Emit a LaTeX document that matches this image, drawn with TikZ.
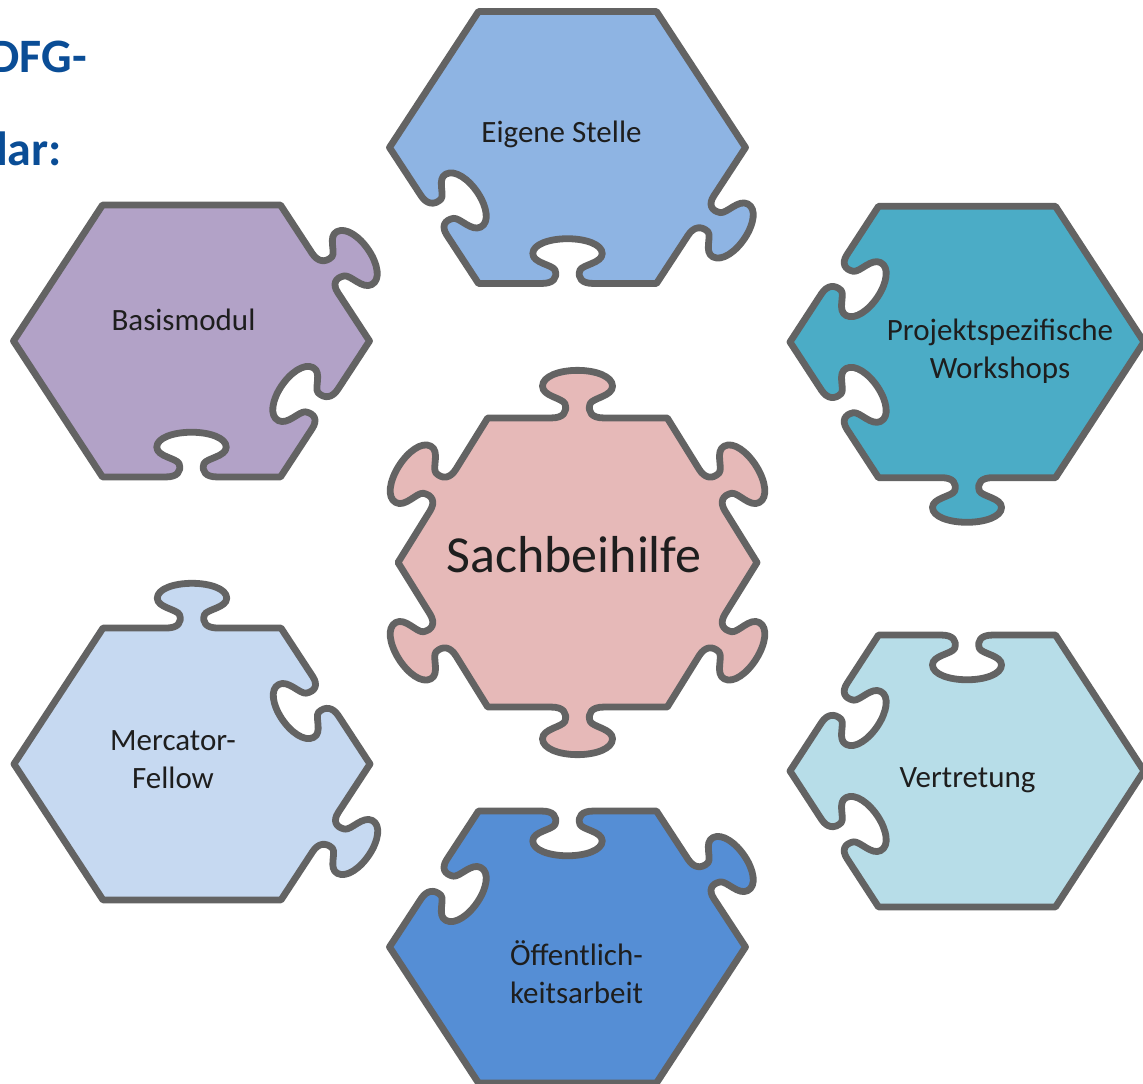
\documentclass[tikz,border=0pt]{standalone}
\usepackage{fontspec}
\setmainfont{Carlito}
\definecolor{edgegray}{RGB}{99,99,99}
\definecolor{labeltext}{RGB}{30,30,30}
\definecolor{titleblue}{RGB}{10,77,150}
\definecolor{cEigene}{RGB}{142,180,227}
\definecolor{cBasis}{RGB}{178,162,199}
\definecolor{cProjekt}{RGB}{75,172,198}
\definecolor{cSach}{RGB}{230,185,184}
\definecolor{cMercator}{RGB}{198,217,241}
\definecolor{cVertretung}{RGB}{183,221,232}
\definecolor{cOeff}{RGB}{85,142,213}
% edge profiles in a local frame: edge from (0,0) to (1,0), outward = -y
\newcommand\plainedge{-- (1,0)}
\newcommand\knobedge{-- (0.355,0)
  .. controls (0.42,0) and (0.445,-0.035) .. (0.43,-0.085)
  .. controls (0.415,-0.12) and (0.305,-0.13) .. (0.305,-0.19)
  .. controls (0.305,-0.25) and (0.40,-0.285) .. (0.5,-0.285)
  .. controls (0.60,-0.285) and (0.695,-0.25) .. (0.695,-0.19)
  .. controls (0.695,-0.13) and (0.585,-0.12) .. (0.57,-0.085)
  .. controls (0.555,-0.035) and (0.58,0) .. (0.645,0) -- (1,0)}
\newcommand\notchedge{-- (0.355,0)
  .. controls (0.42,0) and (0.445,0.035) .. (0.43,0.085)
  .. controls (0.415,0.12) and (0.305,0.13) .. (0.305,0.19)
  .. controls (0.305,0.25) and (0.40,0.285) .. (0.5,0.285)
  .. controls (0.60,0.285) and (0.695,0.25) .. (0.695,0.19)
  .. controls (0.695,0.13) and (0.585,0.12) .. (0.57,0.085)
  .. controls (0.555,0.035) and (0.58,0) .. (0.645,0) -- (1,0)}
% edge k of the hexagon, from vertex 60k to vertex 60(k+1)
\newcommand\ed[2]{{[shift={(60*#1:\pR)}, rotate=60*#1+120, scale=\pR] #2}}
% piece: x, y (image, downwards), R, yscale, fill, edges
\newcommand\piece[6]{%
  \begin{scope}[shift={(#1,-#2)}, yscale=#4]
    \def\pR{#3}
    \filldraw[piece, fill=#5] (0:#3) #6 -- cycle;
  \end{scope}}
\begin{document}
\begin{tikzpicture}[x=1pt,y=1pt,
  piece/.style={draw=edgegray, line width=6.8pt, line join=round},
  lbl/.style={font=\fontsize{31}{38}\selectfont, text=labeltext, align=center, inner sep=0pt, anchor=base},
  ttl/.style={font=\fontsize{48}{48}\selectfont\bfseries, text=titleblue, inner sep=0pt, anchor=base east}]
\useasboundingbox (0,0) rectangle (1143,-1084);

% Eigene Stelle
\piece{567.5}{147.5}{178}{0.882}{cEigene}{\ed{0}{\plainedge}\ed{1}{\plainedge}\ed{2}{\plainedge}\ed{3}{\notchedge}\ed{4}{\notchedge}\ed{5}{\knobedge}}
% Basismodul
\piece{191.5}{341}{178}{0.882}{cBasis}{\ed{0}{\knobedge}\ed{1}{\plainedge}\ed{2}{\plainedge}\ed{3}{\plainedge}\ed{4}{\notchedge}\ed{5}{\notchedge}}
% Projektspezifische Workshops
\piece{967}{342}{177}{0.885}{cProjekt}{\ed{0}{\plainedge}\ed{1}{\plainedge}\ed{2}{\notchedge}\ed{3}{\notchedge}\ed{4}{\knobedge}\ed{5}{\plainedge}}
% Sachbeihilfe
\piece{577.5}{562.5}{179.5}{0.930}{cSach}{\ed{0}{\knobedge}\ed{1}{\knobedge}\ed{2}{\knobedge}\ed{3}{\knobedge}\ed{4}{\knobedge}\ed{5}{\knobedge}}
% Mercator-Fellow
\piece{192}{764}{178}{0.882}{cMercator}{\ed{0}{\notchedge}\ed{1}{\knobedge}\ed{2}{\plainedge}\ed{3}{\plainedge}\ed{4}{\plainedge}\ed{5}{\knobedge}}
% Vertretung
\piece{967}{771}{177}{0.887}{cVertretung}{\ed{0}{\plainedge}\ed{1}{\notchedge}\ed{2}{\notchedge}\ed{3}{\notchedge}\ed{4}{\plainedge}\ed{5}{\plainedge}}
% Oeffentlichkeitsarbeit
\piece{567.5}{947}{178}{0.882}{cOeff}{\ed{0}{\knobedge}\ed{1}{\notchedge}\ed{2}{\notchedge}\ed{3}{\plainedge}\ed{4}{\plainedge}\ed{5}{\plainedge}}

% labels (anchor base = baseline of the last line)
\node[lbl] (eig) at (561.5,-142) {Eigene Stelle};
\node[lbl] (bas) at (183.5,-330) {Basismodul};
\node[lbl] (pro) at (1000,-378) {Projektspezifische\\Workshops};
\node[lbl, font=\fontsize{52}{60}\selectfont] (sach) at (574,-572) {Sachbeihilfe};
\node[lbl] (mer) at (173,-788) {Mercator-\\Fellow};
\node[lbl] (ver) at (967.5,-787) {Vertretung};
\node[lbl] (oef) at (576.5,-1003) {Öffentlich-\\keitsarbeit};

% title fragments
\node[ttl] (ttlA) at (87,-72) {DFG-};
\node[ttl] (ttlB) at (62,-165) {lar:};
\end{tikzpicture}
\end{document}
